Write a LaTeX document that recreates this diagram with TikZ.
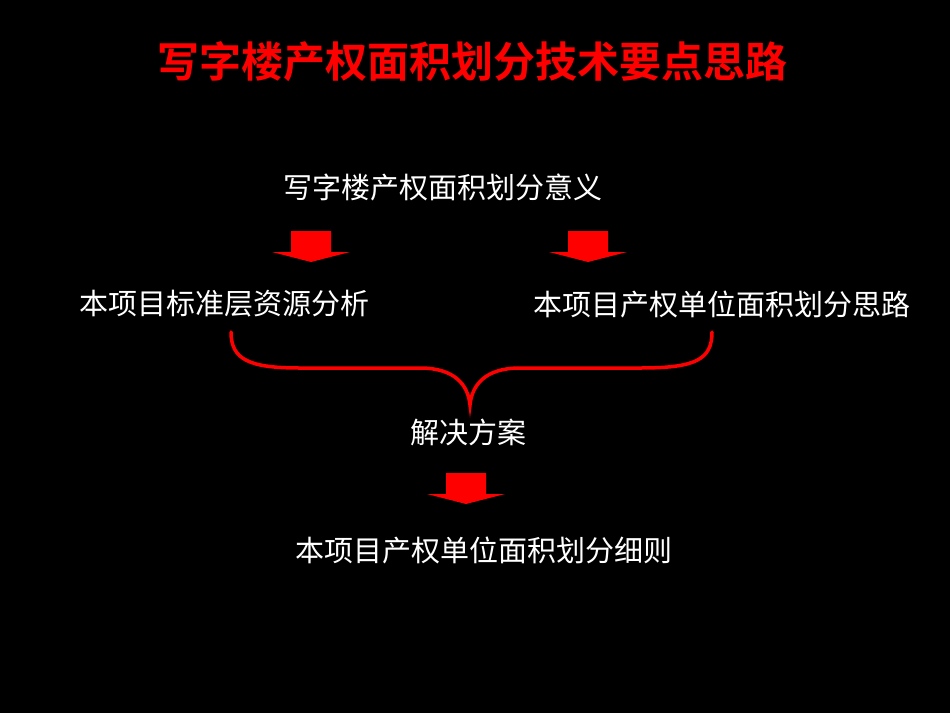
\documentclass[tikz,border=0pt]{standalone}
\usepackage{fontspec}
\newfontfamily\cjk{Noto Sans CJK SC}
\newfontfamily\cjkb{Noto Sans CJK SC Bold}
\begin{document}
\begin{tikzpicture}[x=1pt,y=-1pt,
  lab/.style={text=white,font=\cjk\fontsize{29}{29}\selectfont,inner sep=0},
  down/.style={fill=red,draw=none}]
\fill[black] (0,0) rectangle (950,713);
\useasboundingbox (0,0) rectangle (950,713);
\node[text=red,font=\cjkb\fontsize{42}{42}\selectfont,inner sep=0] (title) at (472,62) {写字楼产权面积划分技术要点思路};
\node[lab] (m) at (443,187) {写字楼产权面积划分意义};
\node[lab] (l) at (224,304) {本项目标准层资源分析};
\node[lab] (r) at (722,304) {本项目产权单位面积划分思路};
\node[lab] (s) at (468,432) {解决方案};
\node[lab] (d) at (484,550) {本项目产权单位面积划分细则};
\foreach \cx/\cy [count=\i] in {311/231, 588/231, 466/473}{
  \fill[red] (\cx-20,\cy) rectangle (\cx+20,\cy+21)
    (\cx-39,\cy+21) -- (\cx+39,\cy+21) -- (\cx,\cy+31) -- cycle;
}
\coordinate (bl) at (231,332);
\coordinate (br) at (712,332);
\coordinate (bc) at (470,405);
\draw[red,line width=3.5pt,line cap=round]
  (bl) .. controls (231,360) and (250,368) .. (300,368)
  -- (420,368) .. controls (455,368) and (468,385) .. (bc)
  .. controls (472,385) and (485,368) .. (520,368)
  -- (640,368) .. controls (695,368) and (712,360) .. (br);
\end{tikzpicture}
\end{document}
